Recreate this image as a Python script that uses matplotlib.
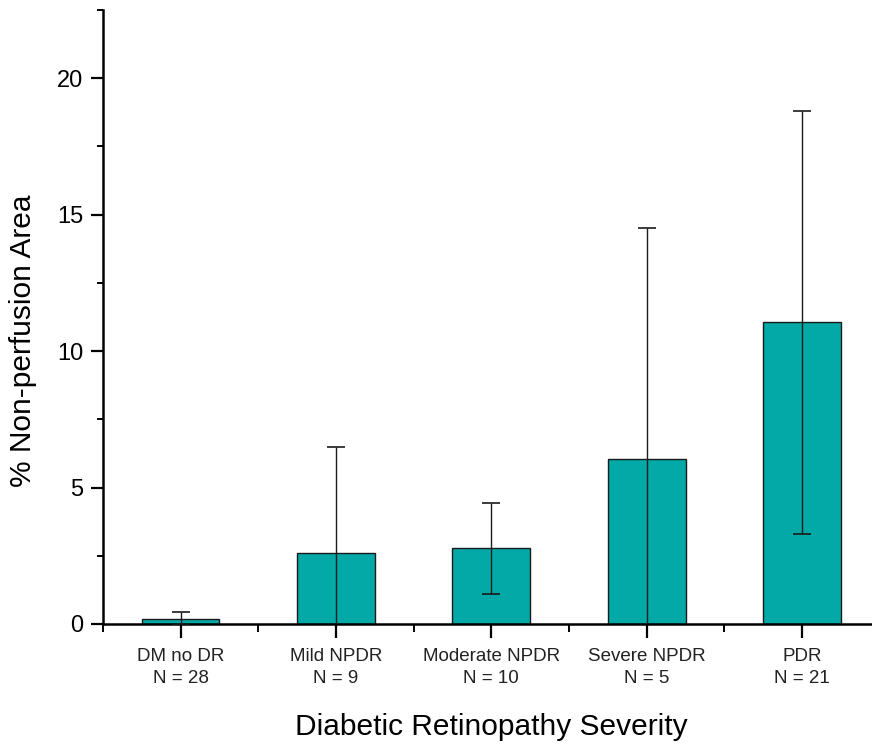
import numpy as np
import matplotlib.pyplot as plt
from matplotlib.ticker import MultipleLocator

plt.rcParams['font.family'] = ['Liberation Sans', 'DejaVu Sans']

groups = ['DM no DR', 'Mild NPDR', 'Moderate NPDR', 'Severe NPDR', 'PDR']
n_counts = [28, 9, 10, 5, 21]
means = [0.2, 2.6, 2.78, 6.05, 11.05]
sds = [0.25, 3.9, 1.67, 8.45, 7.75]

fig = plt.figure(figsize=(8.72, 7.47), dpi=100)
ax = fig.add_axes([0.118, 0.1647, 0.882, 0.822])

x = np.arange(len(groups))
ax.bar(x, means, width=0.5, color='#02a9a6', edgecolor='#1a1a1a', linewidth=1.0, zorder=2)
ax.errorbar(x, means, yerr=sds, fmt='none', ecolor='#1a1a1a', elinewidth=1.0,
            capsize=6.5, capthick=1.2, zorder=3)

ax.set_xlim(-0.5, 4.45)
ax.set_ylim(0, 22.5)
ax.set_xticks(x)
ax.set_xticklabels([g + '\nN = ' + str(n) for g, n in zip(groups, n_counts)],
                   fontsize=13.5, color='#222222', linespacing=1.45)
ax.set_xticks([-0.5, 0.5, 1.5, 2.5, 3.5], minor=True)
ax.yaxis.set_major_locator(MultipleLocator(5))
ax.yaxis.set_minor_locator(MultipleLocator(2.5))
ax.tick_params(axis='y', labelsize=17, length=9, width=1.6, direction='out', pad=5)
ax.tick_params(axis='y', which='minor', length=4, width=1.4)
ax.tick_params(axis='x', length=10, width=1.6, direction='out', pad=7)
ax.tick_params(axis='x', which='minor', length=6, width=1.4)

for s in ['top', 'right']:
    ax.spines[s].set_visible(False)
for s in ['left', 'bottom']:
    ax.spines[s].set_linewidth(1.8)

ax.set_ylabel('% Non-perfusion Area', fontsize=21.5)
ax.yaxis.set_label_coords(-0.086, 0.461)
ax.set_xlabel('Diabetic Retinopathy Severity', fontsize=21.5)
ax.xaxis.set_label_coords(0.505, -0.145)

fig.savefig('out.png', dpi=100)
